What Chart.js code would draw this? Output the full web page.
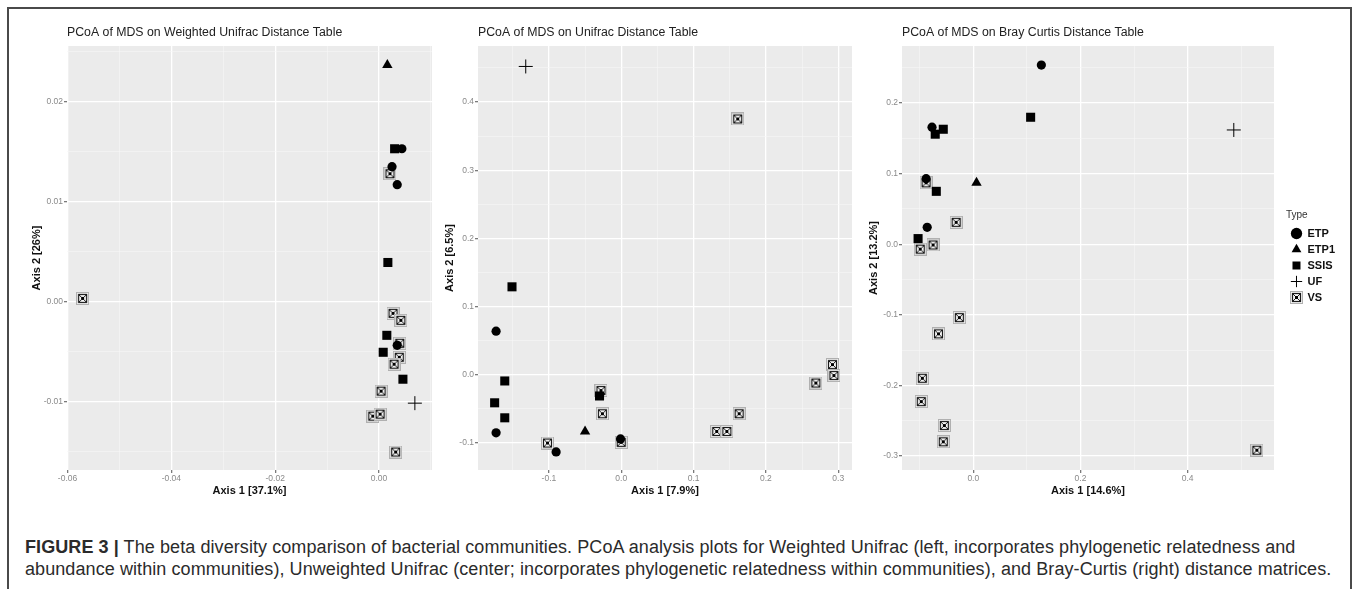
<!DOCTYPE html>
<html>
<head>
<meta charset="utf-8">
<script src="https://cdn.jsdelivr.net/npm/chart.js@4.4.1/dist/chart.umd.min.js"></script>
<style>
  html, body { margin: 0; padding: 0; background: #fff; width: 1357px; height: 589px; overflow: hidden; }
  #frame { position: absolute; left: 7px; top: 7px; width: 1341px; height: 640px; border: 2px solid #4a4a4a; }
  canvas { position: absolute; }
  #caption {
    position: absolute; left: 25px; top: 536px; white-space: nowrap; letter-spacing: 0.08px;
    font: 18px "Liberation Sans", Arial, sans-serif; line-height: 22px; color: #2b2b2b;
  }
</style>
</head>
<body>
<div id="frame"></div>
<canvas id="wunifrac" width="440" height="500" style="left:12px;top:12px"></canvas>
<canvas id="unifrac" width="430" height="500" style="left:436px;top:12px"></canvas>
<canvas id="bray" width="496" height="500" style="left:856px;top:12px"></canvas>
<div id="caption"><b>FIGURE 3 |</b> The beta diversity comparison of bacterial communities. PCoA analysis plots for Weighted Unifrac (left, incorporates phylogenetic relatedness and<br>abundance within communities), Unweighted Unifrac (center; incorporates phylogenetic relatedness within communities), and Bray-Curtis (right) distance matrices.</div>
<script>
const types = ["ETP", "ETP1", "SSIS", "UF", "VS"];

// Weighted Unifrac [x, y]
const wuETP = [[0.0044, 0.0153], [0.0025, 0.0135], [0.0035, 0.0117], [0.0035, -0.0044]];
const wuETP1 = [[0.0016, 0.0237]];
const wuSSIS = [[0.0030, 0.0153], [0.0017, 0.0039], [0.0015, -0.0034], [0.0008, -0.0051], [0.0046, -0.0078]];
const wuUF = [[0.0069, -0.0102]];
const wuVS = [[0.0021, 0.0128], [-0.0571, 0.0003], [0.0027, -0.0012], [0.0042, -0.0019], [0.0040, -0.0042],
  [0.0039, -0.0056], [0.0029, -0.0063], [0.0004, -0.0090], [-0.0012, -0.0115], [0.0002, -0.0113], [0.0032, -0.0151]];

// Unweighted Unifrac
const uuETP = [[-0.173, 0.064], [-0.173, -0.085], [-0.090, -0.113], [-0.001, -0.094]];
const uuETP1 = [[-0.050, -0.083]];
const uuSSIS = [[-0.151, 0.129], [-0.161, -0.009], [-0.175, -0.041], [-0.161, -0.063], [-0.030, -0.031]];
const uuUF = [[-0.132, 0.452]];
const uuVS = [[0.161, 0.375], [-0.102, -0.100], [-0.028, -0.023], [-0.026, -0.057], [0.000, -0.099], [0.132, -0.083],
  [0.146, -0.083], [0.163, -0.057], [0.269, -0.012], [0.292, 0.015], [0.294, -0.001]];

// Bray Curtis
const bcETP = [[0.127, 0.254], [-0.077, 0.166], [-0.088, 0.093], [-0.086, 0.024]];
const bcETP1 = [[0.006, 0.087]];
const bcSSIS = [[0.107, 0.180], [-0.071, 0.156], [-0.056, 0.163], [-0.069, 0.075], [-0.103, 0.008]];
const bcUF = [[0.486, 0.162]];
const bcVS = [[-0.088, 0.087], [-0.032, 0.031], [-0.075, -0.001], [-0.099, -0.007], [-0.026, -0.104], [-0.065, -0.127],
  [-0.095, -0.190], [-0.097, -0.223], [-0.054, -0.257], [-0.056, -0.280], [0.529, -0.292]];

// ticks
const wuXTicks = [-0.06, -0.04, -0.02, 0.00];
const wuXLabels = ["-0.06", "-0.04", "-0.02", "0.00"];
const wuXMinor = [-0.05, -0.03, -0.01, 0.01];
const wuYTicks = [-0.01, 0.00, 0.01, 0.02];
const wuYLabels = ["-0.01", "0.00", "0.01", "0.02"];
const wuYMinor = [-0.015, -0.005, 0.005, 0.015, 0.025];

const uuXTicks = [-0.1, 0.0, 0.1, 0.2, 0.3];
const uuXLabels = ["-0.1", "0.0", "0.1", "0.2", "0.3"];
const uuXMinor = [-0.15, -0.05, 0.05, 0.15, 0.25];
const uuYTicks = [-0.1, 0.0, 0.1, 0.2, 0.3, 0.4];
const uuYLabels = ["-0.1", "0.0", "0.1", "0.2", "0.3", "0.4"];
const uuYMinor = [-0.05, 0.05, 0.15, 0.25, 0.35, 0.45];

const bcXTicks = [0.0, 0.2, 0.4];
const bcXLabels = ["0.0", "0.2", "0.4"];
const bcXMinor = [-0.1, 0.1, 0.3, 0.5];
const bcYTicks = [-0.3, -0.2, -0.1, 0.0, 0.1, 0.2];
const bcYLabels = ["-0.3", "-0.2", "-0.1", "0.0", "0.1", "0.2"];
const bcYMinor = [-0.25, -0.15, -0.05, 0.05, 0.15, 0.25];

const FONT = '"Liberation Sans", Arial, sans-serif';

function makeVsMarker() {
    const c = document.createElement("canvas");
    c.width = 13; c.height = 13;
    const g = c.getContext("2d");
    g.fillStyle = "#f7f7f7";
    g.fillRect(0, 0, 13, 13);
    g.strokeStyle = "#b0b0b0"; g.lineWidth = 1;
    g.strokeRect(0.5, 0.5, 12, 12);
    g.strokeStyle = "#1a1a1a"; g.lineWidth = 1.2;
    g.strokeRect(2.5, 2.5, 8, 8);
    g.lineWidth = 1;
    g.beginPath();
    g.moveTo(3, 3); g.lineTo(10, 10);
    g.moveTo(10, 3); g.lineTo(3, 10);
    g.stroke();
    g.fillStyle = "#000";
    g.fillRect(5, 5, 3, 3);
    return c;
}
const vsMarker = makeVsMarker();

const markerStyle = {
    ETP: { pointStyle: "circle", pointRadius: 4.6, borderWidth: 0 },
    ETP1: { pointStyle: "triangle", pointRadius: 6, borderWidth: 0 },
    SSIS: { pointStyle: "rect", pointRadius: 6.4, borderWidth: 0 },
    UF: { pointStyle: "cross", pointRadius: 7, borderWidth: 1 },
    VS: { pointStyle: vsMarker, pointRadius: 6, borderWidth: 0 }
};

const panelBg = {
    id: "panelBg",
    afterLayout(chart, args, opts) {
        // leave a gap between the panel and the legend, like ggplot does
        if (chart.legend && opts.legendShift) {
            chart.legend.left += opts.legendShift;
            chart.legend.right += opts.legendShift;
        }
    },
    beforeDraw(chart, args, opts) {
        const { ctx, chartArea: a } = chart;
        ctx.save();
        ctx.fillStyle = "#ebebeb";
        ctx.fillRect(a.left, a.top, a.right - a.left, a.bottom - a.top);
        ctx.font = "12.3px " + FONT;
        ctx.fillStyle = "#222";
        ctx.textBaseline = "middle";
        ctx.fillText(opts.text, a.left, a.top - 13);
        ctx.restore();
    }
};

const near = (list, v) => list.findIndex(t => Math.abs(t - v) < 1e-9);

function axis(min, max, major, labels, minor, title, titlePad, size, horizontal) {
    return {
        type: "linear", min, max,
        afterBuildTicks: s => { s.ticks = major.concat(minor).map(v => ({ value: v })); },
        afterFit: s => { if (horizontal) s.height = size; else s.width = size; },
        border: { display: false },
        grid: {
            color: c => (c.tick && near(major, c.tick.value) >= 0) ? "#ffffff" : "#f6f6f6",
            lineWidth: c => (c.tick && near(major, c.tick.value) >= 0) ? 1.3 : 0.6,
            tickColor: c => (c.tick && near(major, c.tick.value) >= 0) ? "#7a7a7a" : "rgba(0,0,0,0)",
            tickLength: 3
        },
        ticks: {
            autoSkip: false, maxRotation: 0, padding: 1,
            font: { size: 8.5, family: FONT }, color: "#8a8a8a",
            callback: v => { const i = near(major, v); return i >= 0 ? labels[i] : ""; }
        },
        title: {
            display: true, text: title, color: "#111",
            font: { size: 11, weight: "bold", family: FONT },
            padding: titlePad
        }
    };
}

function panel(id, p) {
    const groups = [p.ETP, p.ETP1, p.SSIS, p.UF, p.VS];
    new Chart(document.getElementById(id), {
        type: "scatter",
        data: {
            datasets: types.map((t, i) => ({
                label: t,
                data: groups[i].map(([x, y]) => ({ x, y })),
                backgroundColor: "#000",
                borderColor: "#000",
                pointStyle: markerStyle[t].pointStyle,
                pointRadius: markerStyle[t].pointRadius,
                pointBorderWidth: markerStyle[t].borderWidth,
                borderWidth: markerStyle[t].borderWidth
            }))
        },
        options: {
            responsive: false, animation: false, devicePixelRatio: 1, events: [],
            layout: { padding: p.padding },
            plugins: {
                panelBg: { text: p.title, legendShift: p.legend ? 12 : 0 },
                tooltip: { enabled: false },
                legend: p.legend ? {
                    display: true, position: "right", fullSize: false,
                    title: { display: true, text: "Type", color: "#333", position: "start",
                             font: { size: 10, family: FONT }, padding: { top: 2, bottom: 1, left: 0 } },
                    labels: { usePointStyle: true, boxHeight: 8, color: "#111", padding: 5,
                              font: { size: 11, weight: "bold", family: FONT } }
                } : { display: false }
            },
            scales: {
                x: axis(p.xMin, p.xMax, p.xTicks, p.xLabels, p.xMinor, p.xTitle, { top: 0, bottom: 2 }, 30, true),
                y: axis(p.yMin, p.yMax, p.yTicks, p.yLabels, p.yMinor, p.yTitle, { top: p.yPad, bottom: 0 }, p.yWidth, false)
            }
        },
        plugins: [panelBg]
    });
}

panel("wunifrac", {
    title: "PCoA of MDS on Weighted Unifrac Distance Table",
    ETP: wuETP, ETP1: wuETP1, SSIS: wuSSIS, UF: wuUF, VS: wuVS,
    xMin: -0.0601, xMax: 0.0102, xTicks: wuXTicks, xLabels: wuXLabels, xMinor: wuXMinor, xTitle: "Axis 1 [37.1%]",
    yMin: -0.0169, yMax: 0.0256, yTicks: wuYTicks, yLabels: wuYLabels, yMinor: wuYMinor, yTitle: "Axis 2 [26%]",
    yWidth: 55, yPad: 18, padding: { left: 0, right: 20, top: 34, bottom: 12 }
});

panel("unifrac", {
    title: "PCoA of MDS on Unifrac Distance Table",
    ETP: uuETP, ETP1: uuETP1, SSIS: uuSSIS, UF: uuUF, VS: uuVS,
    xMin: -0.198, xMax: 0.319, xTicks: uuXTicks, xLabels: uuXLabels, xMinor: uuXMinor, xTitle: "Axis 1 [7.9%]",
    yMin: -0.1395, yMax: 0.482, yTicks: uuYTicks, yLabels: uuYLabels, yMinor: uuYMinor, yTitle: "Axis 2 [6.5%]",
    yWidth: 42, yPad: 7, padding: { left: 0, right: 14, top: 34, bottom: 12 }
});

panel("bray", {
    title: "PCoA of MDS on Bray Curtis Distance Table",
    ETP: bcETP, ETP1: bcETP1, SSIS: bcSSIS, UF: bcUF, VS: bcVS,
    xMin: -0.133, xMax: 0.561, xTicks: bcXTicks, xLabels: bcXLabels, xMinor: bcXMinor, xTitle: "Axis 1 [14.6%]",
    yMin: -0.32, yMax: 0.281, yTicks: bcYTicks, yLabels: bcYLabels, yMinor: bcYMinor, yTitle: "Axis 2 [13.2%]",
    yWidth: 46, yPad: 11, padding: { left: 0, right: 19, top: 34, bottom: 12 }, legend: true
});
</script>
</body>
</html>
